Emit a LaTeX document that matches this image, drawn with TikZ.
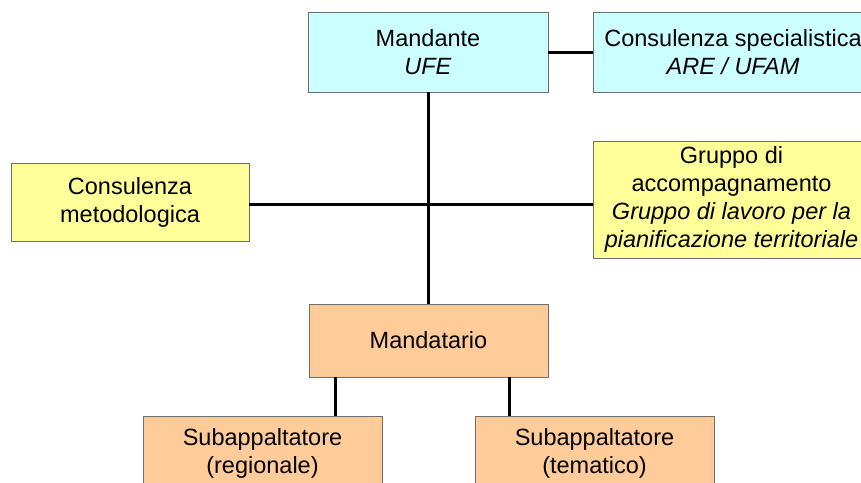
\documentclass[tikz,border=0pt]{standalone}
\usepackage{fontspec}
\setmainfont{Liberation Sans}
\definecolor{boxcyan}{HTML}{CCFFFF}
\definecolor{boxyellow}{HTML}{FFFF99}
\definecolor{boxorange}{HTML}{FFCC99}
\definecolor{boxedge}{HTML}{6E6E6E}
\begin{document}
\begin{tikzpicture}[x=1pt,y=-1pt,
  orgbox/.style={draw=boxedge, line width=0.9pt, rectangle, align=center,
    inner sep=0pt, font=\fontsize{23.5}{28}\selectfont},
  link/.style={line width=3pt, black}]
\useasboundingbox (0,0) rectangle (861,482);
\clip (0,0) rectangle (861,482);

% top row
\node[orgbox, fill=boxcyan, minimum width=240pt, minimum height=80pt]
  (mandante) at (428,52) {Mandante\\\textit{UFE}};
\node[orgbox, fill=boxcyan, minimum width=280pt, minimum height=80pt]
  (spec) at (733,52) {Consulenza specialistica\\\textit{ARE / UFAM}};

% middle row
\node[orgbox, fill=boxyellow, minimum width=238pt, minimum height=78pt]
  (metod) at (130,202) {Consulenza\\metodologica};
\node[orgbox, fill=boxyellow, minimum width=277pt, minimum height=117pt]
  (gruppo) at (731.5,199.5) {Gruppo di\\accompagnamento\\\textit{Gruppo di lavoro per la}\\\textit{pianificazione territoriale}};

% contractor
\node[orgbox, fill=boxorange, minimum width=239pt, minimum height=73pt]
  (mandatario) at (428.5,340.5) {Mandatario};

% subcontractors
\node[orgbox, fill=boxorange, minimum width=239pt, minimum height=74pt]
  (sreg) at (262.5,453) {Subappaltatore\\(regionale)};
\node[orgbox, fill=boxorange, minimum width=239pt, minimum height=74pt]
  (stem) at (594.5,453) {Subappaltatore\\(tematico)};

% connectors
\coordinate (hub) at (428,204);
\draw[link] (mandante.east) -- (spec.west);
\draw[link] (mandante.south) -- (mandante.south |- mandatario.north);
\draw[link] (metod.east |- hub) -- (hub -| gruppo.west);
\draw[link] ([xshift=-93.5pt]mandatario.south) coordinate (ma) -- (ma |- sreg.north);
\draw[link] ([xshift=80.5pt]mandatario.south) coordinate (mb) -- (mb |- stem.north);
\end{tikzpicture}
\end{document}
